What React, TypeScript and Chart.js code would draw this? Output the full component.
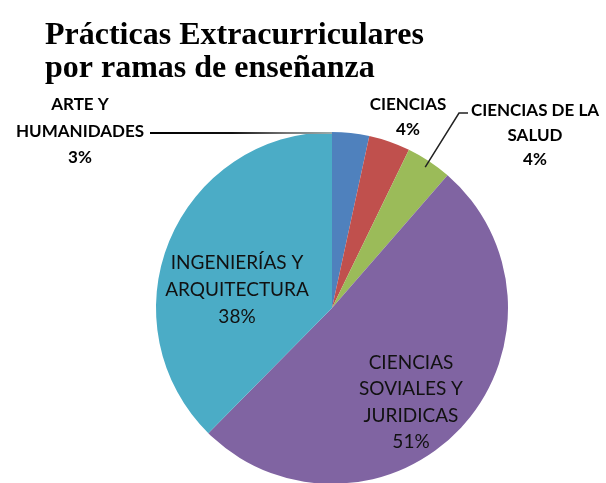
import React, { useEffect, useRef } from "react";
import { Chart, registerables } from "chart.js";

Chart.register(...registerables);

const titleLines = ["Prácticas Extracurriculares", "por ramas de enseñanza"];
const categories = [
  "ARTE Y HUMANIDADES",
  "CIENCIAS",
  "CIENCIAS DE LA SALUD",
  "CIENCIAS SOVIALES Y JURIDICAS",
  "INGENIERÍAS Y ARQUITECTURA",
];
const values = [3.4, 3.8, 4.2, 51.0, 37.6];
const labelLines = [
  ["ARTE Y", "HUMANIDADES"],
  ["CIENCIAS"],
  ["CIENCIAS DE LA", "SALUD"],
  ["CIENCIAS", "SOVIALES Y", "JURIDICAS"],
  ["INGENIERÍAS Y", "ARQUITECTURA"],
];
const colors = ["#4F81BD", "#C0504D", "#9BBB59", "#8064A2", "#4BACC6"];

// label layout: center x, first line center y, line height, outer(bold)?
const labelLayout = [
  { x: 80, y: 105, lh: 26.5, bold: true },
  { x: 408, y: 105, lh: 25, bold: true },
  { x: 535, y: 111, lh: 24.5, bold: true },
  { x: 411, y: 363, lh: 26.3, bold: false },
  { x: 237, y: 263, lh: 27, bold: false },
];

const labelPlugin = {
  id: "customLabels",
  afterDraw(chart: any) {
    const ctx = chart.ctx;
    const meta = chart.getDatasetMeta(0);
    const data = chart.data.datasets[0].data as number[];
    const total = data.reduce((a: number, b: number) => a + b, 0);
    ctx.save();
    // title
    ctx.fillStyle = "#000";
    ctx.textAlign = "left";
    ctx.textBaseline = "alphabetic";
    ctx.font = "bold 32px 'Liberation Serif', 'Times New Roman', serif";
    ctx.fillText(titleLines[0], 45, 44);
    ctx.fillText(titleLines[1], 45, 77);

    // leader lines
    const a0 = meta.data[0];
    const topY = a0.y - a0.outerRadius;
    const grad = ctx.createLinearGradient(150, 0, a0.x, 0);
    grad.addColorStop(0, "#000");
    grad.addColorStop(0.45, "#111");
    grad.addColorStop(0.75, "#777");
    grad.addColorStop(1, "#9aa");
    ctx.strokeStyle = grad;
    ctx.lineWidth = 2;
    ctx.beginPath();
    ctx.moveTo(150, topY + 1);
    ctx.lineTo(a0.x, topY + 1);
    ctx.stroke();

    const a2 = meta.data[2];
    const mid = (a2.startAngle + a2.endAngle) / 2;
    const ex = a2.x + Math.cos(mid) * a2.outerRadius * 0.96;
    const ey = a2.y + Math.sin(mid) * a2.outerRadius * 0.96;
    ctx.strokeStyle = "#222";
    ctx.lineWidth = 1.5;
    ctx.beginPath();
    ctx.moveTo(468, 113);
    ctx.lineTo(459, 113);
    ctx.lineTo(ex, ey);
    ctx.stroke();

    // labels
    ctx.textAlign = "center";
    ctx.textBaseline = "middle";
    labelLayout.forEach((L, i) => {
      const pct = Math.round((data[i] / total) * 100) + "%";
      const lines = [...labelLines[i], pct];
      ctx.font = L.bold ? "bold 17px Lato, sans-serif" : "19px Lato, sans-serif";
      ctx.fillStyle = L.bold ? "#000" : "#111";
      lines.forEach((t, k) => ctx.fillText(t, L.x, L.y + k * L.lh));
    });
    ctx.restore();
  },
};

export default function App() {
  const ref = useRef<HTMLCanvasElement>(null);
  useEffect(() => {
    if (!ref.current) return;
    const chart = new Chart(ref.current, {
      type: "pie",
      data: {
        labels: categories,
        datasets: [{ data: values, backgroundColor: colors, borderWidth: 0 }],
      },
      options: {
        responsive: false,
        animation: false,
        layout: { padding: { top: 132, left: 156, right: 98, bottom: 6 } },
        plugins: { legend: { display: false }, tooltip: { enabled: false } },
      },
      plugins: [labelPlugin],
    });
    return () => chart.destroy();
  }, []);
  return (
    <div
      style={{
        position: "absolute",
        left: 0,
        top: 0,
        width: 606,
        height: 483,
        overflow: "hidden",
        background: "#fff",
      }}
    >
      <canvas ref={ref} width={606} height={490} />
    </div>
  );
}
